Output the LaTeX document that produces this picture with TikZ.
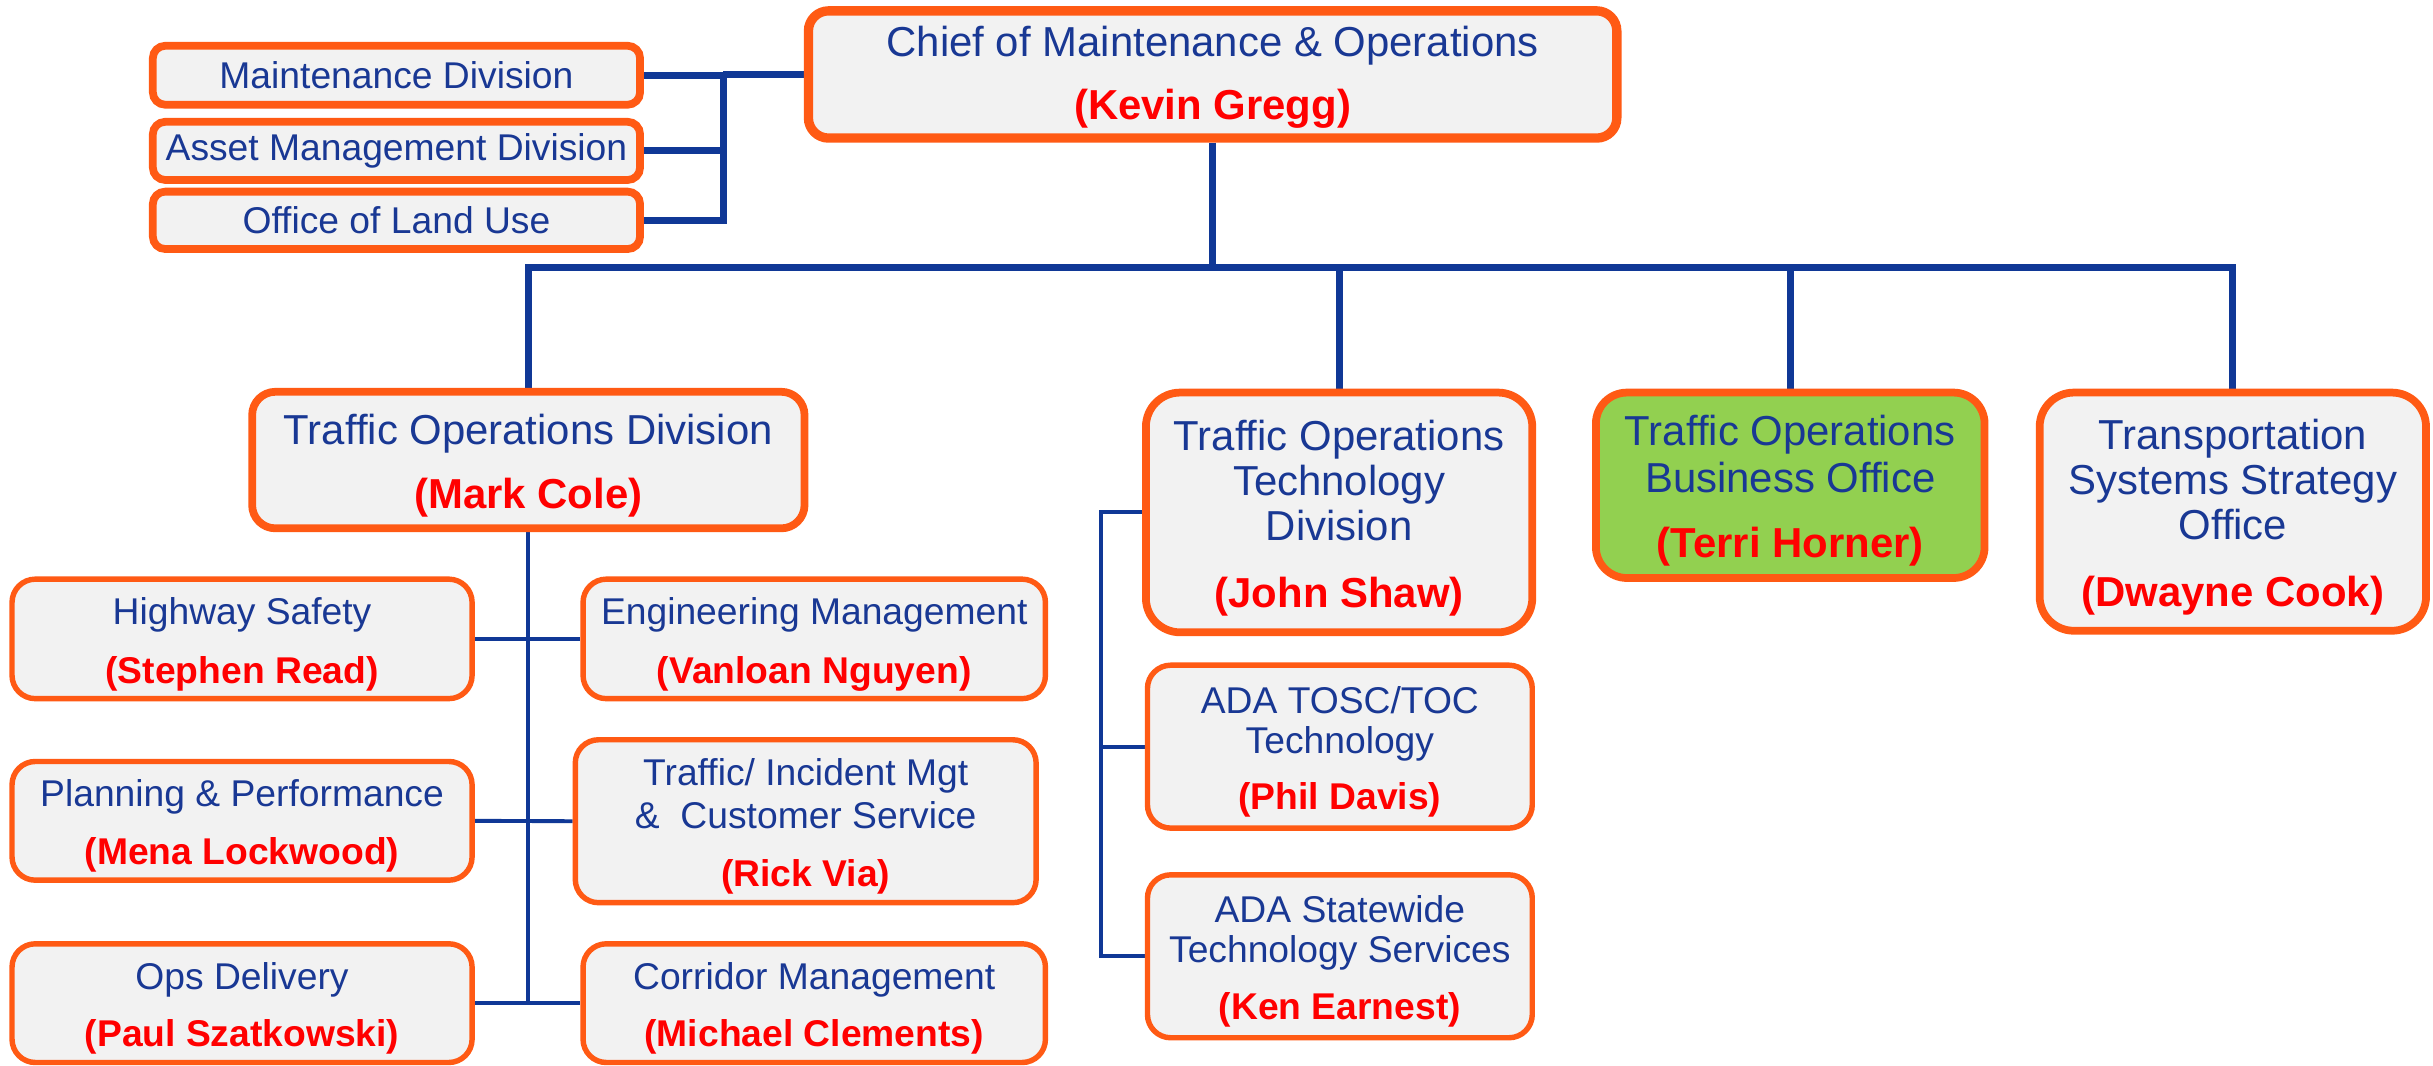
\documentclass[tikz,border=0pt]{standalone}
\usepackage{fontspec}
\setmainfont{Liberation Sans}
\usetikzlibrary{backgrounds}
\pgfdeclarelayer{paper}
\pgfsetlayers{paper,background,main}
\definecolor{orng}{RGB}{255,90,20}
\definecolor{boxgray}{RGB}{242,242,242}
\definecolor{tgreen}{RGB}{146,208,80}
\definecolor{tblue}{RGB}{25,56,148}
\definecolor{lblue}{RGB}{16,56,150}
\definecolor{nred}{RGB}{255,0,0}
\newcommand\who[1]{{\bfseries\color{nred}#1}}
\newcommand\tpb{\rule{0pt}{26.5pt}}
\newcommand\tps{\rule{0pt}{24pt}}
\tikzset{
  bigbox/.style={draw=orng, line width=5pt, fill=boxgray, rounded corners=20pt,
    align=center, font=\fontsize{27}{29}\selectfont, text=tblue, inner sep=0pt},
  sidebox/.style={draw=orng, line width=5pt, fill=boxgray, rounded corners=8pt,
    align=center, font=\fontsize{24}{26}\selectfont, text=tblue, inner sep=0pt},
  subbox/.style={draw=orng, line width=3.5pt, fill=boxgray, rounded corners=15pt,
    align=center, font=\fontsize{24}{26}\selectfont, text=tblue, inner sep=0pt},
  mainline/.style={draw=lblue, line width=4.5pt},
  subline/.style={draw=lblue, line width=2.5pt},
}
\begin{document}
\begin{tikzpicture}[x=1pt,y=-1pt]
\begin{pgfonlayer}{paper}
\useasboundingbox[fill=white] (0,0) rectangle (1568,687);
\end{pgfonlayer}

% top level
\node[bigbox, line width=6pt, rounded corners=13pt, minimum width=521pt, minimum height=82pt] (chief) at (781.5,48)
  {\rule{0pt}{23pt}Chief of Maintenance \& Operations\\[12pt]\who{(Kevin Gregg)}};

\node[sidebox, minimum width=314pt, minimum height=38pt] (maint) at (255.5,48.5) {Maintenance Division};
\node[sidebox, minimum width=314pt, minimum height=37.5pt] (asset) at (255.5,97.25) {Asset Management Division};
\node[sidebox, minimum width=314pt, minimum height=37pt] (office) at (255.5,142) {Office of Land Use};

% second level
\node[bigbox, rounded corners=15pt, minimum width=356pt, minimum height=88pt] (tod) at (340.5,296.5)
  {\tpb Traffic Operations Division\\[12pt]\who{(Mark Cole)}};
\node[bigbox, rounded corners=22pt, minimum width=249pt, minimum height=154.5pt] (totd) at (863,330.25)
  {\tpb Traffic Operations\\Technology\\Division\\[14pt]\who{(John Shaw)}};
\node[bigbox, fill=tgreen, minimum width=250.5pt, minimum height=119.5pt] (tobo) at (1153.75,312.75)
  {\tpb Traffic Operations\\[1pt]Business Office\\[13pt]\who{(Terri Horner)}};
\node[bigbox, rounded corners=22pt, minimum width=249pt, minimum height=153.5pt] (tsso) at (1439,329.75)
  {\tpb Transportation\\Systems Strategy\\Office\\[14pt]\who{(Dwayne Cook)}};

% TOD sub units
\node[subbox, minimum width=296.5pt, minimum height=77pt] (hs) at (156,411.75)
  {\tps Highway Safety\\[12pt]\who{(Stephen Read)}};
\node[subbox, minimum width=298pt, minimum height=77pt] (em) at (524.75,411.75)
  {\tps Engineering Management\\[12pt]\who{(Vanloan Nguyen)}};
\node[subbox, minimum width=296.5pt, minimum height=76.5pt] (pp) at (156,529)
  {\tps Planning \& Performance\\[11pt]\who{(Mena Lockwood)}};
\node[subbox, minimum width=297pt, minimum height=105pt] (ti) at (519.25,529.25)
  {\tps Traffic/ Incident Mgt\\[2pt]\&~ Customer Service\\[11pt]\who{(Rick Via)}};
\node[subbox, minimum width=296.5pt, minimum height=76.5pt] (od) at (156,646.5)
  {\tps Ops Delivery\\[11pt]\who{(Paul Szatkowski)}};
\node[subbox, minimum width=298pt, minimum height=76.5pt] (cm) at (524.75,646.5)
  {\tps Corridor Management\\[11pt]\who{(Michael Clements)}};

% TOTD sub units
\node[subbox, minimum width=248pt, minimum height=105pt] (ada1) at (863.5,481.2)
  {\tps ADA TOSC/TOC\\Technology\\[10pt]\who{(Phil Davis)}};
\node[subbox, minimum width=248pt, minimum height=105pt] (ada2) at (863.5,616.3)
  {\tps ADA Statewide\\Technology Services\\[11pt]\who{(Ken Earnest)}};

\coordinate (sv) at (466,48);
\coordinate (bus) at (781.5,172.7);
\coordinate (tv) at (709.5,330.25);

\begin{scope}[on background layer]
  % staff divisions
  \draw[mainline] (chief.west) -- (sv);
  \draw[mainline] (maint.east) -- (maint.east -| sv);
  \draw[mainline] (asset.east) -- (asset.east -| sv);
  \draw[mainline] (sv) |- (office.east);
  % main bus
  \draw[mainline] (chief.south) -- (bus);
  \draw[mainline] (tod.north) |- (bus) -| (tsso.north);
  \draw[mainline] (totd.north) -- (totd.north |- bus);
  \draw[mainline] (tobo.north) -- (tobo.north |- bus);
  % TOD sub units
  \draw[subline] (tod.south) -- (tod.south |- od.east);
  \draw[subline] (hs.east) -- (em.west);
  \draw[subline] (pp.east) -- (ti.west);
  \draw[subline] (od.east) -- (cm.west);
  % TOTD sub units
  \draw[subline] (totd.west) -- (tv) |- (ada2.west);
  \draw[subline] (ada1.west) -- (ada1.west -| tv);
\end{scope}
\end{tikzpicture}
\end{document}
